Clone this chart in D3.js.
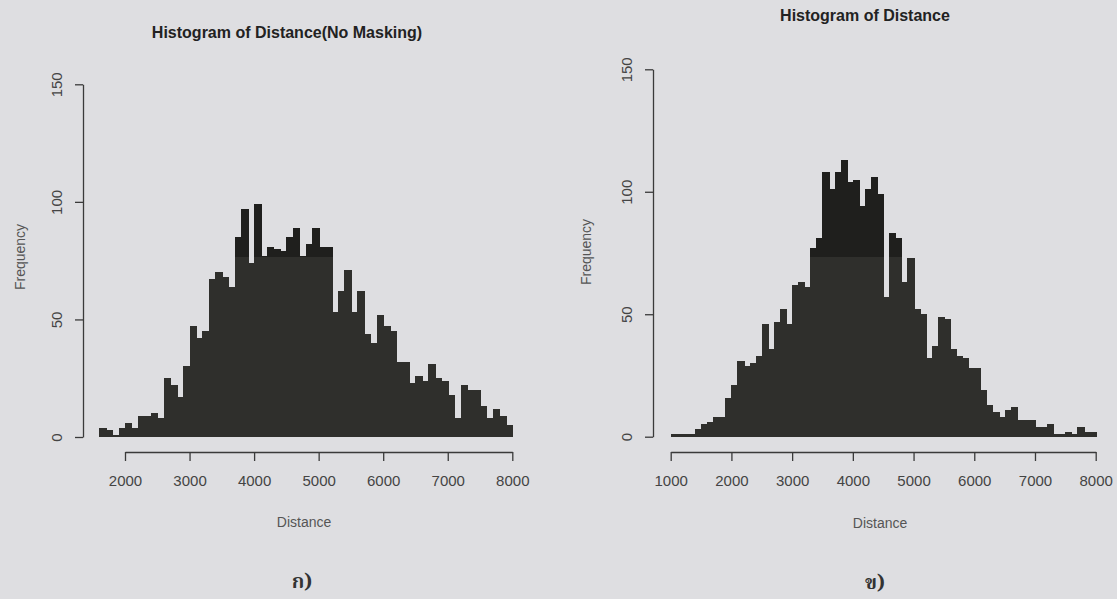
<!DOCTYPE html>
<html>
<head>
<meta charset="utf-8">
<script src="https://cdn.jsdelivr.net/npm/d3@7"></script>
<style>
  html, body { margin: 0; padding: 0; background: #dedee1; }
  svg { display: block; font-family: "Liberation Sans", Arial, sans-serif; }
  .title { font-weight: bold; font-size: 16px; fill: #222; }
  .axis-label { font-size: 14px; fill: #555; }
  .tick text { font-size: 15px; fill: #444; font-family: "Liberation Sans", Arial, sans-serif; }
  .tick line, .domain { stroke: #3a3a3a; stroke-width: 1.3; }
  .bar { shape-rendering: crispEdges; }
  .panel-tag { font-size: 20px; font-weight: bold; fill: #333;
               font-family: "Noto Serif Thai", "Noto Sans Thai", "Garuda", "Loma", "DejaVu Serif", serif; }
</style>
</head>
<body>
<div id="chart"></div>
<script>
// Histogram counts, 100-unit bins
const binWidth = 100;

// (a) no masking: bins start at 1600
const leftBinStart = 1600;
const leftCounts = [4, 3, 1, 4, 6, 4, 9, 9, 10, 8,
  25, 22, 17, 30, 47, 42, 45, 67, 70, 68,
  64, 85, 97, 74, 99, 77, 81, 80, 79, 85,
  89, 77, 82, 89, 81, 81, 53, 62, 71, 53,
  62, 44, 40, 52, 47, 45, 32, 32, 23, 26,
  24, 31, 25, 24, 18, 8, 22, 20, 20, 13,
  8, 12, 9, 5];

// (b) bins start at 1000
const rightBinStart = 1000;
const rightCounts = [1, 1, 1, 1, 3, 5, 6, 8, 8, 16,
  21, 31, 29, 30, 33, 46, 36, 47, 52, 46,
  62, 63, 61, 77, 81, 108, 101, 108, 113, 104,
  105, 94, 101, 106, 99, 57, 83, 81, 63, 73,
  52, 50, 32, 37, 49, 48, 36, 33, 32, 28,
  28, 19, 13, 10, 8, 11, 12, 7, 7, 7,
  4, 4, 5, 1, 1, 2, 1, 4, 2, 2];

const leftXTicks = [2000, 3000, 4000, 5000, 6000, 7000, 8000];
const rightXTicks = [1000, 2000, 3000, 4000, 5000, 6000, 7000, 8000];
const yTicks = [0, 50, 100, 150];

const leftTitle = "Histogram of Distance(No Masking)";
const rightTitle = "Histogram of Distance";
const xLabel = "Distance";
const yLabel = "Frequency";
const leftTag = "ก)";
const rightTag = "ข)";

const width = 1117, height = 599;
const barColor = "#2f2f2c";
const barColorDark = "#1f1f1d";   // scanner band: upper part of the page is darker
const scanBandY = 257;

const svg = d3.select("#chart").append("svg")
  .attr("width", width)
  .attr("height", height);

svg.append("rect").attr("width", width).attr("height", height).attr("fill", "#dedee1");

const clip = svg.append("clipPath").attr("id", "band-clip");
clip.append("rect").attr("x", 0).attr("y", 0).attr("width", width).attr("height", scanBandY);

function drawPanel(p) {
  const x = d3.scaleLinear().domain(p.xDomain).range(p.xRange);
  const y = d3.scaleLinear().domain([0, 150]).range(p.yRange);

  const bins = p.counts.map((c, i) => ({ x0: p.binStart + i * binWidth, x1: p.binStart + (i + 1) * binWidth, c }));

  const g = svg.append("g");

  // bars, drawn twice so the dark scan band can be clipped over them
  [barColor, barColorDark].forEach((col, k) => {
    const layer = g.append("g");
    if (k === 1) layer.attr("clip-path", "url(#band-clip)");
    layer.selectAll("rect")
      .data(bins.filter(d => d.c > 0))
      .join("rect")
      .attr("class", "bar")
      .attr("x", d => x(d.x0))
      .attr("width", d => x(d.x1) - x(d.x0) + 1)
      .attr("y", d => y(d.c))
      .attr("height", d => y(0) - y(d.c))
      .attr("fill", col);
  });

  // x axis
  const xAxis = g.append("g")
    .attr("transform", `translate(0,${p.xAxisY})`)
    .call(d3.axisBottom(x).tickValues(p.xTicks).tickFormat(d3.format("d")).tickSize(9).tickSizeOuter(0));
  xAxis.selectAll(".tick text").attr("y", 23);

  // y axis (R style: labels parallel to the axis)
  const yAxis = g.append("g")
    .attr("transform", `translate(${p.yAxisX},0)`)
    .call(d3.axisLeft(y).tickValues(yTicks).tickSize(8).tickSizeOuter(0));
  yAxis.selectAll(".tick text")
    .attr("transform", "rotate(-90)")
    .attr("text-anchor", "middle")
    .attr("x", 0)
    .attr("y", -26)
    .attr("dy", "0.35em");

  // titles and labels
  g.append("text").attr("class", "title")
    .attr("x", p.titlePos[0]).attr("y", p.titlePos[1])
    .attr("text-anchor", "middle").text(p.title);

  g.append("text").attr("class", "axis-label")
    .attr("x", p.xLabelPos[0]).attr("y", p.xLabelPos[1])
    .attr("text-anchor", "middle").attr("dy", "0.35em").text(xLabel);

  g.append("text").attr("class", "axis-label")
    .attr("transform", `translate(${p.yLabelPos[0]},${p.yLabelPos[1]}) rotate(-90)`)
    .attr("text-anchor", "middle").attr("dy", "0.35em").text(yLabel);

  g.append("text").attr("class", "panel-tag")
    .attr("x", p.tagPos[0]).attr("y", p.tagPos[1])
    .attr("text-anchor", "middle").text(p.tag);
}

drawPanel({
  counts: leftCounts, binStart: leftBinStart, xTicks: leftXTicks,
  xDomain: [2000, 8000], xRange: [125, 512.3], yRange: [437, 84.3],
  xAxisY: 452, yAxisX: 83,
  title: leftTitle, titlePos: [287, 38],
  xLabelPos: [304, 522], yLabelPos: [20, 257],
  tag: leftTag, tagPos: [302, 588]
});

drawPanel({
  counts: rightCounts, binStart: rightBinStart, xTicks: rightXTicks,
  xDomain: [1000, 8000], xRange: [670.7, 1095.7], yRange: [436.7, 69.3],
  xAxisY: 452, yAxisX: 653,
  title: rightTitle, titlePos: [865, 21],
  xLabelPos: [880, 523], yLabelPos: [586, 252],
  tag: rightTag, tagPos: [875, 589]
});
</script>
</body>
</html>
